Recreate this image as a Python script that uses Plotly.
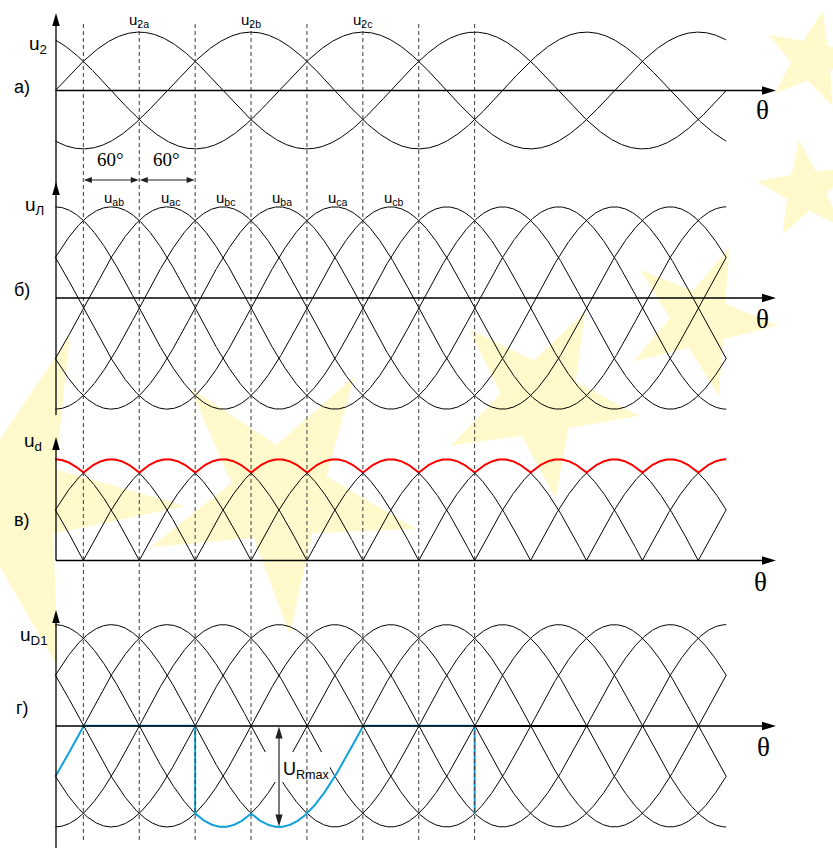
import numpy as np
import plotly.graph_objects as go

W, H = 833, 848

# ---------------- data ----------------
THETA_START, THETA_END, THETA_STEP = 0, 720, 0.5

PHASE_LABELS = ["u<sub>2a</sub>", "u<sub>2b</sub>", "u<sub>2c</sub>"]
PHASE_SHIFT_DEG = [0, -120, 120]          # u2x = sin(theta + shift)
PHASE_LABEL_DEG = [90, 210, 330]
PHASE_AMPLITUDE = 1.0

LINE_NAMES = ["ab", "ac", "bc", "ba", "ca", "cb"]
LINE_PEAK_DEG = [60, 120, 180, 240, 300, 360]   # u_line = sqrt(3) cos(theta - peak)
LINE_AMPLITUDE = 3 ** 0.5

DASHED_DEG = [30, 90, 150, 210, 270, 330, 390, 450]
ANGLE_SPANS_DEG = [(30, 90), (90, 150)]
ANGLE_TEXT = ["60°", "60°"]

# diode voltage u_D1 : (line voltage followed, from deg, to deg); "zero" = conducting
UD1_PIECES = [("ac", 0, 30), ("zero", 30, 150), ("cb", 150, 210),
              ("ab", 210, 330), ("zero", 330, 450), ("ca", 450, 450)]
URMAX_DEG = 240

PANEL_TAGS = ["а)", "б)", "в)", "г)"]
PANEL_YLABELS = ["u<sub>2</sub>", "u<sub>Л</sub>", "u<sub>d</sub>", "u<sub>D1</sub>"]

# ---------------- layout geometry (pixels) ----------------
X0_PX = 55.4
PX_PER_DEG = 55.9 / 60
UNIT_PX = 58.4
# (top px, bottom px, px of zero value)
PANELS = [(6, 172, 90.5), (174, 428, 308.0), (430, 602, 560.5), (604, 848, 725.8)]
HAXIS_PX = [90.5, 298, 560.5, 726]
VAXIS_SEGS = [(13, 415), (437, 560.5), (610, 848)]
VAXIS_TIPS = [13, 182, 437, 610]
HAXIS_TIP_PX = 776

SANS = "Liberation Sans, Arial, sans-serif"
SERIF = "Liberation Serif, Times New Roman, serif"
STAR = "#FFF9CC"
STARS = [  # cx, cy, R, r, rotation (px, deg)
    (812, 60, 50, 21, 12), (806, 190, 50, 21, -8),
    (540, 400, 100, 40, 27), (700, 320, 78, 30, 22),
    (280, 495, 140, 50, 32), (10, 500, 175, 55, 20),
]


def px_x(t):
    return X0_PX + t * PX_PER_DEG


def PX(px):
    return px / W


def PY(py):
    return 1 - py / H


th = np.arange(THETA_START, THETA_END + THETA_STEP / 2, THETA_STEP)


def line_val(name, t):
    k = LINE_NAMES.index(name)
    return LINE_AMPLITUDE * np.cos(np.deg2rad(t - LINE_PEAK_DEG[k]))


fig = go.Figure()
BLK = dict(color="black", width=1)

# ---- (a) phase voltages
for s in PHASE_SHIFT_DEG:
    fig.add_trace(go.Scatter(x=th, y=PHASE_AMPLITUDE * np.sin(np.deg2rad(th + s)),
                             mode="lines", line=BLK, xaxis="x", yaxis="y", hoverinfo="skip"))
# ---- (b) line voltages
for n in LINE_NAMES:
    fig.add_trace(go.Scatter(x=th, y=line_val(n, th), mode="lines", line=BLK,
                             xaxis="x2", yaxis="y2", hoverinfo="skip"))
# ---- (c) positive halves + rectified envelope
allv = np.array([line_val(n, th) for n in LINE_NAMES])
for v in allv:
    fig.add_trace(go.Scatter(x=th, y=np.where(v >= -1e-9, v, np.nan), mode="lines", line=BLK,
                             xaxis="x3", yaxis="y3", hoverinfo="skip"))
fig.add_trace(go.Scatter(x=th, y=allv.max(axis=0), mode="lines",
                         line=dict(color="#FF0000", width=2), xaxis="x3", yaxis="y3", hoverinfo="skip"))
# ---- (d) line voltages + diode voltage
for n in LINE_NAMES:
    fig.add_trace(go.Scatter(x=th, y=line_val(n, th), mode="lines", line=BLK,
                             xaxis="x4", yaxis="y4", hoverinfo="skip"))

# white patch where the source drawing erased the curves around the U_Rmax label
zero_d = PANELS[3][2]
mx = [(p - X0_PX) / PX_PER_DEG for p in (262, 330, 330, 262, 262)]
my = [(zero_d - p) / UNIT_PX for p in (752, 752, 782, 782, 752)]
fig.add_trace(go.Scatter(x=mx, y=my, mode="lines", fill="toself", fillcolor="white",
                         line=dict(width=0, color="white"), xaxis="x4", yaxis="y4", hoverinfo="skip"))

bx, by = [], []
for name, a, b in UD1_PIECES:
    t = np.arange(a, b + THETA_STEP / 2, THETA_STEP) if b > a else np.array([a])
    v = np.zeros_like(t, dtype=float) if name == "zero" else line_val(name, t)
    bx.extend(t.tolist())
    by.extend(v.tolist())
fig.add_trace(go.Scatter(x=bx, y=by, mode="lines", line=dict(color="#12A3E0", width=2),
                         xaxis="x4", yaxis="y4", hoverinfo="skip"))

# ---------------- axes ----------------
xr = [(0 - X0_PX) / PX_PER_DEG, (W - X0_PX) / PX_PER_DEG]
lay = {}
for i, (top, bot, zero) in enumerate(PANELS, start=1):
    sx = "" if i == 1 else str(i)
    lay["xaxis" + sx] = dict(domain=[0, 1], range=xr, visible=False, anchor="y" + sx, fixedrange=True)
    lay["yaxis" + sx] = dict(domain=[1 - bot / H, 1 - top / H],
                             range=[(zero - bot) / UNIT_PX, (zero - top) / UNIT_PX],
                             visible=False, anchor="x" + sx, fixedrange=True)

shapes = []


def star_path(cx, cy, R, r, rot):
    pts = []
    for k in range(10):
        ang = np.deg2rad(-90 + rot + k * 36)
        rr = R if k % 2 == 0 else r
        pts.append((PX(cx + rr * np.cos(ang)), PY(cy + rr * np.sin(ang))))
    return "M" + " L".join(f"{x:.5f},{y:.5f}" for x, y in pts) + " Z"


for cx, cy, R, r, rot in STARS:
    shapes.append(dict(type="path", path=star_path(cx, cy, R, r, rot), xref="paper", yref="paper",
                       fillcolor=STAR, line=dict(width=0), layer="below"))

# dashed commutation lines
for d in DASHED_DEG:
    shapes.append(dict(type="line", xref="x", yref="paper", x0=d, x1=d, y0=PY(840), y1=PY(22),
                       line=dict(color="#3a3a3a", width=1, dash="4px,3px")))


def tri(tx, ty, direction, length, half, color="black"):
    if direction == "up":
        p = [(tx, ty), (tx - half, ty + length), (tx + half, ty + length)]
    elif direction == "down":
        p = [(tx, ty), (tx - half, ty - length), (tx + half, ty - length)]
    elif direction == "right":
        p = [(tx, ty), (tx - length, ty - half), (tx - length, ty + half)]
    else:
        p = [(tx, ty), (tx + length, ty - half), (tx + length, ty + half)]
    path = "M" + " L".join(f"{PX(x):.5f},{PY(y):.5f}" for x, y in p) + " Z"
    return dict(type="path", path=path, xref="paper", yref="paper",
                fillcolor=color, line=dict(width=0))


def seg(x0, y0, x1, y1, width=1, color="black"):
    return dict(type="line", xref="paper", yref="paper", x0=PX(x0), y0=PY(y0), x1=PX(x1), y1=PY(y1),
                line=dict(color=color, width=width))


xa = px_x(0) + 0.6
for y0, y1 in VAXIS_SEGS:
    shapes.append(seg(xa, y0 + 4, xa, y1, 1.3))
for t in VAXIS_TIPS:
    shapes.append(tri(xa, t, "up", 13, 3.8))
for hy in HAXIS_PX:
    shapes.append(seg(xa, hy, HAXIS_TIP_PX - 6, hy, 1.3))
    shapes.append(tri(HAXIS_TIP_PX, hy, "right", 14, 4.2))
# short heavier stroke on (d) axis after the blue curve
shapes.append(seg(px_x(450), HAXIS_PX[3], px_x(572), HAXIS_PX[3], 2.2))

# 60 degree span arrows
ay = 180
for a, b in ANGLE_SPANS_DEG:
    shapes.append(seg(px_x(a) + 3, ay, px_x(b) - 3, ay, 1.2, "#222"))
    shapes.append(tri(px_x(a) + 0.5, ay, "left", 8, 3, "#222"))
    shapes.append(tri(px_x(b) - 0.5, ay, "right", 8, 3, "#222"))

# U_Rmax arrow
ux = px_x(URMAX_DEG)
ybot = zero_d + LINE_AMPLITUDE * UNIT_PX
shapes.append(seg(ux, HAXIS_PX[3] + 5, ux, ybot - 5, 1.2, "#222"))
shapes.append(tri(ux, HAXIS_PX[3] + 0.5, "up", 12, 3.6, "#222"))
shapes.append(tri(ux, ybot - 0.5, "down", 12, 3.6, "#222"))

# ---------------- texts ----------------
ann = []


def txt(text, x, y, size, family=SANS, xanchor="center", xref="paper", color="black"):
    ann.append(dict(text=text, x=x if xref != "paper" else PX(x), y=PY(y), xref=xref, yref="paper",
                    showarrow=False, xanchor=xanchor, yanchor="middle",
                    font=dict(size=size, family=family, color=color)))


for lab, d in zip(PHASE_LABELS, PHASE_LABEL_DEG):
    txt(lab, d, 20, 15, xref="x")
for n, d in zip(LINE_NAMES, LINE_PEAK_DEG):
    txt(f"u<sub>{n}</sub>", d + 3, 198, 15, xref="x")
for (a, b), s in zip(ANGLE_SPANS_DEG, ANGLE_TEXT):
    txt(s, (a + b) / 2 - 1, 159, 19, family=SERIF, xref="x")

for tag, ty in zip(PANEL_TAGS, [87, 290, 520, 708]):
    txt(tag, 22, ty, 18)
for lab, (lx, ly) in zip(PANEL_YLABELS, [(38, 45), (34, 206), (33, 442), (34, 636)]):
    txt(lab, lx, ly, 19)
for tx, ty in [(762, 110), (762, 319), (760, 582), (763, 747)]:
    txt("θ", tx, ty, 27, family=SERIF)
txt("U<sub>Rmax</sub>", 281, 770, 18, xanchor="left")

fig.update_layout(width=W, height=H, margin=dict(l=0, r=0, t=0, b=0), autosize=False,
                  paper_bgcolor="white", plot_bgcolor="rgba(0,0,0,0)", showlegend=False,
                  shapes=shapes, annotations=ann, **lay)
fig.write_html("out.html", config={"displayModeBar": False, "staticPlot": True},
               post_script="document.body.style.margin='0px';")
